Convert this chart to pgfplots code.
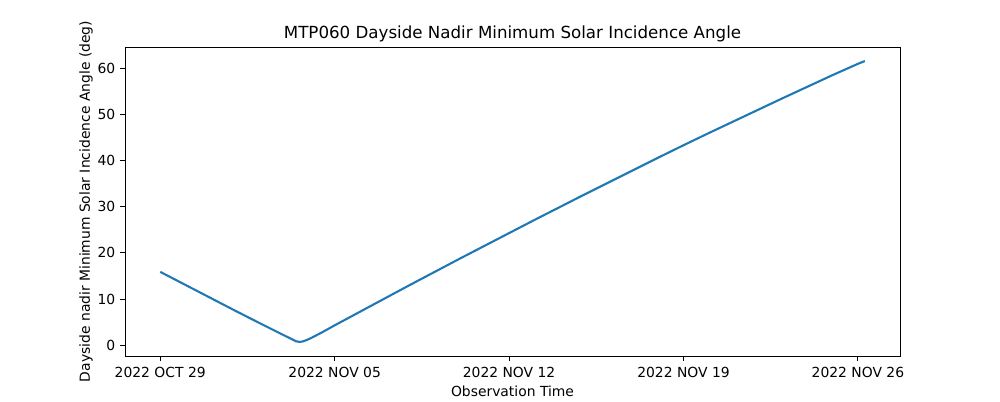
\documentclass[border=0pt]{standalone}
\usepackage{pgfplots}
\pgfplotsset{compat=1.18}
\usepackage{fontspec}
\setmainfont{DejaVu Sans}
\definecolor{mplblue}{HTML}{1F77B4}
\begin{document}
\begin{tikzpicture}
\begin{axis}[scale only axis,
             width=558pt, height=222.5pt,
             xmin=-1.414, xmax=29.69,
             ymin=-2.35, ymax=64.65,
             /pgf/number format/assume math mode=true,
             font=\fontsize{10pt}{12pt}\selectfont,
             xtick={0,7,14,21,28},
             xticklabels={2022 OCT 29, 2022 NOV 05, 2022 NOV 12, 2022 NOV 19, 2022 NOV 26},
             ytick={0,10,...,60},
             tick align=outside,
             xtick pos=bottom, ytick pos=left,
             major tick length=3.5pt,
             tick style={black, line width=0.7pt},
             axis line style={line width=0.7pt},
             xticklabel style={yshift=-1pt},
             every axis title shift=0pt,
             title={MTP060 Dayside Nadir Minimum Solar Incidence Angle},
             title style={font=\fontsize{12pt}{14pt}\selectfont, at={(axis description cs:0.5,1)}, anchor=center, yshift=9.4pt},
             xlabel={Observation Time},
             xlabel style={at={(axis description cs:0.5,0)}, anchor=center, yshift=-25.2pt},
             ylabel={Dayside nadir Minimum Solar Incidence Angle (deg)},
             ylabel style={at={(axis description cs:-0.0502,0.5)}, anchor=center}]
\addplot[mplblue, line width=1.5pt, line join=round] coordinates {
 (0,15.9) (1,13.1) (2,10.3) (3,7.5) (4,4.75) (4.5,3.4) (5,2.05) (5.25,1.4)
 (5.45,0.85) (5.6,0.7) (5.75,0.85) (6.0,1.4) (6.5,2.8) (7,4.3) (8,7.2) (9,10.1) (10,13.0)
 (11,15.85) (12,18.7) (13,21.5) (14,24.3) (15,27.1) (16,29.85) (17,32.6)
 (18,35.3) (19,38.0) (20,40.7) (21,43.35) (22,45.95) (23,48.5) (24,51.05)
 (25,53.6) (26,56.1) (27,58.6) (28,61.0) (28.28,61.6)
};
\end{axis}
\path (current axis.south west) ++(-90pt,-31.7pt) (current axis.north east) ++(72pt,33.84pt);
\end{tikzpicture}
\end{document}
